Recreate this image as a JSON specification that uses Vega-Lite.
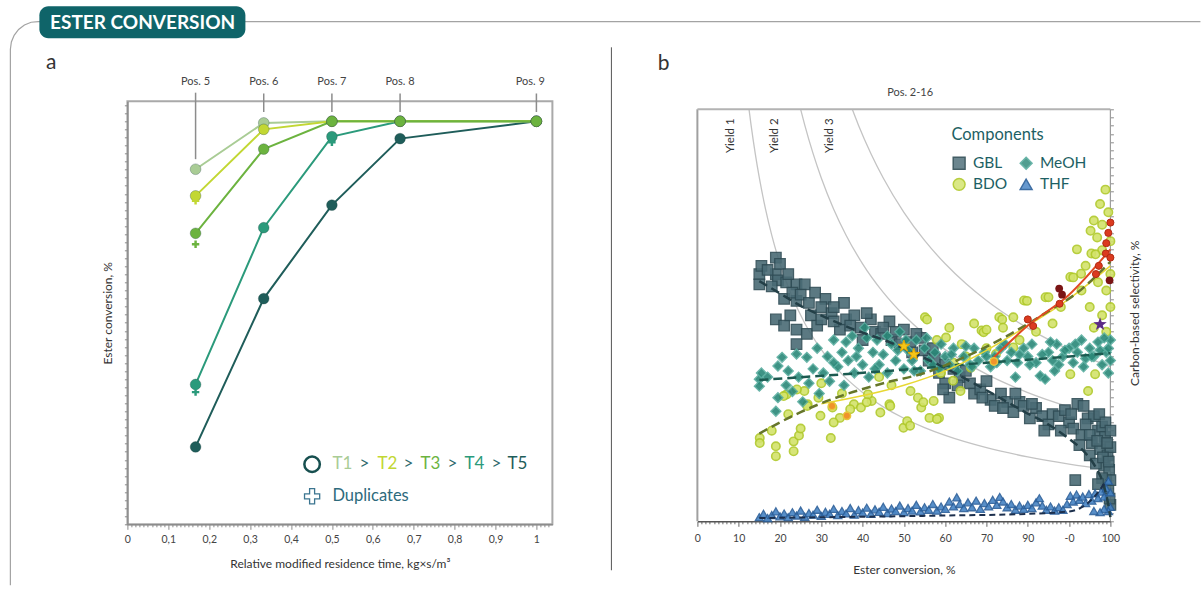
{
"$schema": "https://vega.github.io/schema/vega-lite/v6.json",
"padding": {"left": 6.4, "top": 4.3, "right": 0, "bottom": 0},
"bounds": "flush",
"spacing": 145,
"config": {
  "font": "Lato",
  "text": {"font": "Lato"},
  "axis": {"labelFont": "Lato", "titleFont": "Lato", "labelFontSize": 10.5, "labelColor": "#444444", "titleFontSize": 12, "titleFontWeight": "normal", "titleColor": "#333333", "domainColor": "#8c8c8c", "tickColor": "#8c8c8c", "grid": false, "domainWidth": 1.5}
},
"datasets": {
  "pts": [
    {"c": "GBL", "x": 15, "y": 60}, {"c": "GBL", "x": 15, "y": 57.5}, {"c": "GBL", "x": 15.5, "y": 62}, {"c": "GBL", "x": 19, "y": 64}, {"c": "GBL", "x": 19, "y": 60}, {"c": "GBL", "x": 19.5, "y": 58.5}, {"c": "GBL", "x": 21.5, "y": 58}, {"c": "GBL", "x": 24, "y": 57.5}, {"c": "GBL", "x": 26, "y": 57.5}, {"c": "GBL", "x": 21, "y": 54}, {"c": "GBL", "x": 24, "y": 53.5}, {"c": "GBL", "x": 23, "y": 55.5}, {"c": "GBL", "x": 31, "y": 54}, {"c": "GBL", "x": 35.5, "y": 53}, {"c": "GBL", "x": 19, "y": 49}, {"c": "GBL", "x": 21, "y": 47.5}, {"c": "GBL", "x": 22.5, "y": 50}, {"c": "GBL", "x": 24, "y": 46.5}, {"c": "GBL", "x": 24, "y": 43}, {"c": "GBL", "x": 26.5, "y": 45.5}, {"c": "GBL", "x": 27.5, "y": 50}, {"c": "GBL", "x": 29, "y": 47.5}, {"c": "GBL", "x": 30, "y": 52}, {"c": "GBL", "x": 32.5, "y": 50.5}, {"c": "GBL", "x": 34.5, "y": 46.5}, {"c": "GBL", "x": 33, "y": 48.5}, {"c": "GBL", "x": 36, "y": 49}, {"c": "GBL", "x": 38, "y": 50}, {"c": "GBL", "x": 39.5, "y": 47}, {"c": "GBL", "x": 40, "y": 44}, {"c": "GBL", "x": 42, "y": 49}, {"c": "GBL", "x": 43, "y": 46}, {"c": "GBL", "x": 44.5, "y": 45.5}, {"c": "GBL", "x": 46.5, "y": 48.5}, {"c": "GBL", "x": 47, "y": 44}, {"c": "GBL", "x": 48, "y": 46}, {"c": "GBL", "x": 50, "y": 46.5}, {"c": "GBL", "x": 51.5, "y": 43.5}, {"c": "GBL", "x": 52, "y": 41}, {"c": "GBL", "x": 54, "y": 44.5}, {"c": "GBL", "x": 55, "y": 41.5}, {"c": "GBL", "x": 56, "y": 39}, {"c": "GBL", "x": 57.5, "y": 39.5}, {"c": "GBL", "x": 58.5, "y": 36}, {"c": "GBL", "x": 60, "y": 33.5}, {"c": "GBL", "x": 61, "y": 30}, {"c": "GBL", "x": 59.5, "y": 32}, {"c": "GBL", "x": 62, "y": 37}, {"c": "GBL", "x": 63.5, "y": 35}, {"c": "GBL", "x": 65, "y": 36.5}, {"c": "GBL", "x": 66, "y": 33.5}, {"c": "GBL", "x": 67, "y": 31}, {"c": "GBL", "x": 68.5, "y": 32}, {"c": "GBL", "x": 70, "y": 34}, {"c": "GBL", "x": 71, "y": 29.5}, {"c": "GBL", "x": 72, "y": 28}, {"c": "GBL", "x": 73.5, "y": 31}, {"c": "GBL", "x": 75, "y": 29}, {"c": "GBL", "x": 76.5, "y": 26.5}, {"c": "GBL", "x": 78, "y": 29}, {"c": "GBL", "x": 79, "y": 28}, {"c": "GBL", "x": 80.5, "y": 25}, {"c": "GBL", "x": 82, "y": 27.5}, {"c": "GBL", "x": 83.5, "y": 25.5}, {"c": "GBL", "x": 85, "y": 23.5}, {"c": "GBL", "x": 86, "y": 26}, {"c": "GBL", "x": 87.5, "y": 25.5}, {"c": "GBL", "x": 89, "y": 27}, {"c": "GBL", "x": 90, "y": 24}, {"c": "GBL", "x": 91, "y": 22.5}, {"c": "GBL", "x": 92, "y": 28.5}, {"c": "GBL", "x": 93.5, "y": 28}, {"c": "GBL", "x": 94.5, "y": 25}, {"c": "GBL", "x": 95.5, "y": 19}, {"c": "GBL", "x": 96, "y": 25.5}, {"c": "GBL", "x": 97, "y": 22}, {"c": "GBL", "x": 97.5, "y": 17.5}, {"c": "GBL", "x": 98, "y": 23}, {"c": "GBL", "x": 98.5, "y": 13.5}, {"c": "GBL", "x": 98.7, "y": 20.5}, {"c": "GBL", "x": 99, "y": 10}, {"c": "GBL", "x": 99.3, "y": 16}, {"c": "GBL", "x": 99.5, "y": 7.5}, {"c": "GBL", "x": 99.7, "y": 12.5}, {"c": "GBL", "x": 100, "y": 18}, {"c": "GBL", "x": 100, "y": 4}, {"c": "GBL", "x": 91.5, "y": 10}, {"c": "GBL", "x": 95, "y": 16}, {"c": "GBL", "x": 96.5, "y": 14}, {"c": "GBL", "x": 93, "y": 21},
    {"c": "GBL", "x": 17, "y": 61}, {"c": "GBL", "x": 18, "y": 57}, {"c": "GBL", "x": 20, "y": 62.5}, {"c": "GBL", "x": 22, "y": 60}, {"c": "GBL", "x": 25, "y": 55}, {"c": "GBL", "x": 27, "y": 53}, {"c": "GBL", "x": 28.5, "y": 55.5}, {"c": "GBL", "x": 30, "y": 49}, {"c": "GBL", "x": 33, "y": 52}, {"c": "GBL", "x": 37, "y": 47.5}, {"c": "GBL", "x": 41, "y": 50.5}, {"c": "GBL", "x": 45, "y": 47}, {"c": "GBL", "x": 49, "y": 43}, {"c": "GBL", "x": 53, "y": 45.5}, {"c": "GBL", "x": 57, "y": 42}, {"c": "GBL", "x": 60, "y": 38}, {"c": "GBL", "x": 63, "y": 33}, {"c": "GBL", "x": 69, "y": 30}, {"c": "GBL", "x": 74, "y": 27.5}, {"c": "GBL", "x": 77, "y": 31}, {"c": "GBL", "x": 81, "y": 28.5}, {"c": "GBL", "x": 84, "y": 22}, {"c": "GBL", "x": 88, "y": 22}, {"c": "GBL", "x": 90.5, "y": 26}, {"c": "GBL", "x": 92.5, "y": 18.5}, {"c": "GBL", "x": 94, "y": 23.5}, {"c": "GBL", "x": 95, "y": 21}, {"c": "GBL", "x": 96.8, "y": 19.5}, {"c": "GBL", "x": 97.3, "y": 26}, {"c": "GBL", "x": 98.2, "y": 15.5}, {"c": "GBL", "x": 98.8, "y": 24}, {"c": "GBL", "x": 99.2, "y": 19}, {"c": "GBL", "x": 99.6, "y": 14.5}, {"c": "GBL", "x": 100, "y": 22}, {"c": "GBL", "x": 100, "y": 10}, {"c": "GBL", "x": 99.8, "y": 5.5}, {"c": "GBL", "x": 98, "y": 10.5}, {"c": "GBL", "x": 97, "y": 9},
    {"c": "BDO", "x": 15.1, "y": 20.2}, {"c": "BDO", "x": 15.1, "y": 19.0}, {"c": "BDO", "x": 19, "y": 18.2}, {"c": "BDO", "x": 19, "y": 15.8}, {"c": "BDO", "x": 23.3, "y": 17}, {"c": "BDO", "x": 23.3, "y": 19.4}, {"c": "BDO", "x": 24.6, "y": 20.8}, {"c": "BDO", "x": 25, "y": 22.5}, {"c": "BDO", "x": 32.3, "y": 20.2}, {"c": "BDO", "x": 21.6, "y": 30.8}, {"c": "BDO", "x": 25.9, "y": 31.6}, {"c": "BDO", "x": 26.7, "y": 28.4}, {"c": "BDO", "x": 29.3, "y": 30}, {"c": "BDO", "x": 32.7, "y": 27.6}, {"c": "BDO", "x": 34.5, "y": 25.1}, {"c": "BDO", "x": 37.9, "y": 28.4}, {"c": "BDO", "x": 39.6, "y": 27.6}, {"c": "BDO", "x": 42.2, "y": 29.2}, {"c": "BDO", "x": 46.5, "y": 28.4}, {"c": "BDO", "x": 49.9, "y": 22.7}, {"c": "BDO", "x": 50.8, "y": 24.3}, {"c": "BDO", "x": 53.4, "y": 30}, {"c": "BDO", "x": 56.2, "y": 25.1}, {"c": "BDO", "x": 58.5, "y": 25.1}, {"c": "BDO", "x": 57.2, "y": 29.2}, {"c": "BDO", "x": 55.1, "y": 49.5}, {"c": "BDO", "x": 60.2, "y": 44.6}, {"c": "BDO", "x": 63.7, "y": 31.6}, {"c": "BDO", "x": 68.8, "y": 46.3}, {"c": "BDO", "x": 73.1, "y": 49.5}, {"c": "BDO", "x": 76.5, "y": 49.5}, {"c": "BDO", "x": 79.1, "y": 53.6}, {"c": "BDO", "x": 84.3, "y": 54.4}, {"c": "BDO", "x": 90.3, "y": 59.3}, {"c": "BDO", "x": 92.9, "y": 60.1}, {"c": "BDO", "x": 95.4, "y": 65}, {"c": "BDO", "x": 98, "y": 65.8}, {"c": "BDO", "x": 90.3, "y": 35.7}, {"c": "BDO", "x": 94.6, "y": 31.6}, {"c": "BDO", "x": 96.3, "y": 35.7}, {"c": "BDO", "x": 76.5, "y": 42.2}, {"c": "BDO", "x": 72.3, "y": 40.6}, {"c": "BDO", "x": 66.2, "y": 37.3}, {"c": "BDO", "x": 61.9, "y": 34.1}, {"c": "BDO", "x": 51.6, "y": 31.6}, {"c": "BDO", "x": 54.2, "y": 27.6}, {"c": "BDO", "x": 41.3, "y": 30.8}, {"c": "BDO", "x": 20.9, "y": 30.4}, {"c": "BDO", "x": 24.1, "y": 32}, {"c": "BDO", "x": 26.6, "y": 28}, {"c": "BDO", "x": 29.8, "y": 25.6}, {"c": "BDO", "x": 33, "y": 24}, {"c": "BDO", "x": 37, "y": 27.2}, {"c": "BDO", "x": 41, "y": 28.9}, {"c": "BDO", "x": 44.3, "y": 26.4}, {"c": "BDO", "x": 46.7, "y": 28}, {"c": "BDO", "x": 51.5, "y": 23.2}, {"c": "BDO", "x": 54.7, "y": 28.9}, {"c": "BDO", "x": 55.6, "y": 49}, {"c": "BDO", "x": 58, "y": 24.8}, {"c": "BDO", "x": 95.2, "y": 70.5}, {"c": "BDO", "x": 96.8, "y": 68.9}, {"c": "BDO", "x": 91.9, "y": 66}, {"c": "BDO", "x": 96.4, "y": 64.8}, {"c": "BDO", "x": 91, "y": 59.2}, {"c": "BDO", "x": 85, "y": 54.4}, {"c": "BDO", "x": 79.8, "y": 53.5}, {"c": "BDO", "x": 73.8, "y": 49}, {"c": "BDO", "x": 69.3, "y": 45.9}, {"c": "BDO", "x": 98.8, "y": 80.5}, {"c": "BDO", "x": 97.5, "y": 77}, {"c": "BDO", "x": 96, "y": 73}, {"c": "BDO", "x": 99.5, "y": 75}, {"c": "BDO", "x": 98, "y": 72}, {"c": "BDO", "x": 100, "y": 68}, {"c": "BDO", "x": 94, "y": 62}, {"c": "BDO", "x": 97, "y": 58}, {"c": "BDO", "x": 99, "y": 56}, {"c": "BDO", "x": 93, "y": 56}, {"c": "BDO", "x": 95, "y": 52}, {"c": "BDO", "x": 98, "y": 50}, {"c": "BDO", "x": 100, "y": 60}, {"c": "BDO", "x": 100, "y": 52}, {"c": "BDO", "x": 99, "y": 46}, {"c": "BDO", "x": 96, "y": 47}, {"c": "BDO", "x": 88, "y": 52}, {"c": "BDO", "x": 86, "y": 48}, {"c": "BDO", "x": 82, "y": 46}, {"c": "BDO", "x": 78, "y": 44}, {"c": "BDO", "x": 70, "y": 42}, {"c": "BDO", "x": 65, "y": 40}, {"c": "BDO", "x": 62, "y": 38.5}, {"c": "BDO", "x": 59, "y": 36}, {"c": "BDO", "x": 47, "y": 33}, {"c": "BDO", "x": 44, "y": 35}, {"c": "BDO", "x": 35, "y": 31}, {"c": "BDO", "x": 30, "y": 33.5}, {"c": "BDO", "x": 22, "y": 26}, {"c": "BDO", "x": 18, "y": 22}, {"c": "BDO", "x": 58, "y": 44}, {"c": "BDO", "x": 61, "y": 47}, {"c": "BDO", "x": 64, "y": 43}, {"c": "BDO", "x": 67, "y": 48}, {"c": "BDO", "x": 70, "y": 46.5}, {"c": "BDO", "x": 74, "y": 47},
    {"c": "MeOH", "x": 15, "y": 34.5}, {"c": "MeOH", "x": 15, "y": 32.8}, {"c": "MeOH", "x": 15.5, "y": 36}, {"c": "MeOH", "x": 17, "y": 35}, {"c": "MeOH", "x": 19.5, "y": 37.7}, {"c": "MeOH", "x": 19.5, "y": 30}, {"c": "MeOH", "x": 19, "y": 26.7}, {"c": "MeOH", "x": 20.5, "y": 39.8}, {"c": "MeOH", "x": 21.5, "y": 33}, {"c": "MeOH", "x": 22, "y": 36.5}, {"c": "MeOH", "x": 23, "y": 31.5}, {"c": "MeOH", "x": 24, "y": 40.6}, {"c": "MeOH", "x": 24.5, "y": 35}, {"c": "MeOH", "x": 25.5, "y": 29}, {"c": "MeOH", "x": 26.5, "y": 39.8}, {"c": "MeOH", "x": 27, "y": 33.5}, {"c": "MeOH", "x": 28, "y": 37}, {"c": "MeOH", "x": 29, "y": 42}, {"c": "MeOH", "x": 29.5, "y": 31}, {"c": "MeOH", "x": 30.5, "y": 36}, {"c": "MeOH", "x": 31.5, "y": 40}, {"c": "MeOH", "x": 32, "y": 34}, {"c": "MeOH", "x": 33, "y": 44}, {"c": "MeOH", "x": 34, "y": 37.5}, {"c": "MeOH", "x": 35, "y": 41}, {"c": "MeOH", "x": 35.5, "y": 33}, {"c": "MeOH", "x": 36.5, "y": 39}, {"c": "MeOH", "x": 37.5, "y": 45}, {"c": "MeOH", "x": 38, "y": 36}, {"c": "MeOH", "x": 39, "y": 42}, {"c": "MeOH", "x": 40, "y": 38}, {"c": "MeOH", "x": 40.5, "y": 47}, {"c": "MeOH", "x": 41.5, "y": 35}, {"c": "MeOH", "x": 42.5, "y": 41}, {"c": "MeOH", "x": 43.5, "y": 44}, {"c": "MeOH", "x": 44, "y": 38}, {"c": "MeOH", "x": 45, "y": 40.5}, {"c": "MeOH", "x": 46, "y": 36}, {"c": "MeOH", "x": 47, "y": 43}, {"c": "MeOH", "x": 48, "y": 39}, {"c": "MeOH", "x": 49, "y": 46}, {"c": "MeOH", "x": 50, "y": 37}, {"c": "MeOH", "x": 51, "y": 41.5}, {"c": "MeOH", "x": 52, "y": 39}, {"c": "MeOH", "x": 53, "y": 44}, {"c": "MeOH", "x": 54, "y": 36.5}, {"c": "MeOH", "x": 55, "y": 42}, {"c": "MeOH", "x": 56, "y": 39}, {"c": "MeOH", "x": 57.5, "y": 41}, {"c": "MeOH", "x": 58.5, "y": 37}, {"c": "MeOH", "x": 60, "y": 40}, {"c": "MeOH", "x": 61, "y": 38}, {"c": "MeOH", "x": 62, "y": 42}, {"c": "MeOH", "x": 63, "y": 36.5}, {"c": "MeOH", "x": 64.5, "y": 40}, {"c": "MeOH", "x": 66, "y": 38}, {"c": "MeOH", "x": 67, "y": 42}, {"c": "MeOH", "x": 68, "y": 39}, {"c": "MeOH", "x": 69.5, "y": 41}, {"c": "MeOH", "x": 71, "y": 37.5}, {"c": "MeOH", "x": 72, "y": 40}, {"c": "MeOH", "x": 73.5, "y": 42}, {"c": "MeOH", "x": 75, "y": 39}, {"c": "MeOH", "x": 76, "y": 41}, {"c": "MeOH", "x": 77.5, "y": 38.5}, {"c": "MeOH", "x": 79, "y": 42}, {"c": "MeOH", "x": 80, "y": 40}, {"c": "MeOH", "x": 81, "y": 43}, {"c": "MeOH", "x": 82, "y": 38.5}, {"c": "MeOH", "x": 83, "y": 35.3}, {"c": "MeOH", "x": 84.2, "y": 34.5}, {"c": "MeOH", "x": 85, "y": 41}, {"c": "MeOH", "x": 86, "y": 39}, {"c": "MeOH", "x": 87, "y": 43}, {"c": "MeOH", "x": 88.5, "y": 40}, {"c": "MeOH", "x": 90, "y": 42}, {"c": "MeOH", "x": 91, "y": 38.5}, {"c": "MeOH", "x": 92, "y": 41}, {"c": "MeOH", "x": 93, "y": 44}, {"c": "MeOH", "x": 94, "y": 39.5}, {"c": "MeOH", "x": 95, "y": 42}, {"c": "MeOH", "x": 96, "y": 40}, {"c": "MeOH", "x": 97, "y": 43.5}, {"c": "MeOH", "x": 98, "y": 38}, {"c": "MeOH", "x": 99, "y": 41}, {"c": "MeOH", "x": 100, "y": 44}, {"c": "MeOH", "x": 100, "y": 39}, {"c": "MeOH", "x": 99.5, "y": 36}, {"c": "MeOH", "x": 86.5, "y": 36.5}, {"c": "MeOH", "x": 77, "y": 35},
    {"c": "MeOH", "x": 33, "y": 38.5}, {"c": "MeOH", "x": 36, "y": 43.5}, {"c": "MeOH", "x": 38.5, "y": 40}, {"c": "MeOH", "x": 41, "y": 44.5}, {"c": "MeOH", "x": 43, "y": 37}, {"c": "MeOH", "x": 46, "y": 45}, {"c": "MeOH", "x": 48.5, "y": 41.5}, {"c": "MeOH", "x": 50.5, "y": 44}, {"c": "MeOH", "x": 52.5, "y": 36.5}, {"c": "MeOH", "x": 55.5, "y": 44.5}, {"c": "MeOH", "x": 57, "y": 38}, {"c": "MeOH", "x": 59, "y": 43}, {"c": "MeOH", "x": 61.5, "y": 40.5}, {"c": "MeOH", "x": 65, "y": 42.5}, {"c": "MeOH", "x": 66.5, "y": 37.5}, {"c": "MeOH", "x": 70, "y": 40}, {"c": "MeOH", "x": 72.5, "y": 38.5}, {"c": "MeOH", "x": 74.5, "y": 43}, {"c": "MeOH", "x": 78, "y": 40.5}, {"c": "MeOH", "x": 80.5, "y": 38}, {"c": "MeOH", "x": 83.5, "y": 40.5}, {"c": "MeOH", "x": 85.5, "y": 43.5}, {"c": "MeOH", "x": 87.5, "y": 38}, {"c": "MeOH", "x": 89, "y": 41.5}, {"c": "MeOH", "x": 91.5, "y": 43}, {"c": "MeOH", "x": 93.5, "y": 37.5}, {"c": "MeOH", "x": 95.5, "y": 40}, {"c": "MeOH", "x": 97.5, "y": 41.5}, {"c": "MeOH", "x": 98.5, "y": 44.5}, {"c": "MeOH", "x": 99.5, "y": 42},
    {"c": "THF", "x": 15, "y": 1.0}, {"c": "THF", "x": 16, "y": 1.8}, {"c": "THF", "x": 17, "y": 0.8}, {"c": "THF", "x": 18, "y": 1.5}, {"c": "THF", "x": 19, "y": 2.4}, {"c": "THF", "x": 20, "y": 1.2}, {"c": "THF", "x": 21, "y": 1.9}, {"c": "THF", "x": 22, "y": 1.0}, {"c": "THF", "x": 23, "y": 2.2}, {"c": "THF", "x": 24, "y": 1.4}, {"c": "THF", "x": 25, "y": 2.6}, {"c": "THF", "x": 26, "y": 1.1}, {"c": "THF", "x": 27, "y": 2.0}, {"c": "THF", "x": 28, "y": 1.6}, {"c": "THF", "x": 29, "y": 2.8}, {"c": "THF", "x": 30, "y": 1.3}, {"c": "THF", "x": 31, "y": 2.3}, {"c": "THF", "x": 32, "y": 1.8}, {"c": "THF", "x": 33, "y": 3.0}, {"c": "THF", "x": 34, "y": 1.5}, {"c": "THF", "x": 35, "y": 2.5}, {"c": "THF", "x": 36, "y": 1.9}, {"c": "THF", "x": 37, "y": 3.2}, {"c": "THF", "x": 38, "y": 1.6}, {"c": "THF", "x": 39, "y": 2.7}, {"c": "THF", "x": 40, "y": 2.1}, {"c": "THF", "x": 41, "y": 3.3}, {"c": "THF", "x": 42, "y": 1.8}, {"c": "THF", "x": 43, "y": 2.9}, {"c": "THF", "x": 44, "y": 2.3}, {"c": "THF", "x": 45, "y": 3.5}, {"c": "THF", "x": 46, "y": 2.0}, {"c": "THF", "x": 47, "y": 3.1}, {"c": "THF", "x": 48, "y": 2.5}, {"c": "THF", "x": 49, "y": 3.8}, {"c": "THF", "x": 50, "y": 2.2}, {"c": "THF", "x": 51, "y": 3.2}, {"c": "THF", "x": 52, "y": 2.6}, {"c": "THF", "x": 53, "y": 4.0}, {"c": "THF", "x": 54, "y": 2.4}, {"c": "THF", "x": 55, "y": 3.4}, {"c": "THF", "x": 56, "y": 2.8}, {"c": "THF", "x": 57, "y": 4.2}, {"c": "THF", "x": 58, "y": 2.6}, {"c": "THF", "x": 59, "y": 3.6}, {"c": "THF", "x": 60, "y": 3.0}, {"c": "THF", "x": 61, "y": 4.8}, {"c": "THF", "x": 62, "y": 3.6}, {"c": "THF", "x": 62.8, "y": 5.8}, {"c": "THF", "x": 63.5, "y": 4.2}, {"c": "THF", "x": 64.5, "y": 3.2}, {"c": "THF", "x": 65.5, "y": 4.6}, {"c": "THF", "x": 66.5, "y": 3.4}, {"c": "THF", "x": 67.5, "y": 5.0}, {"c": "THF", "x": 68.5, "y": 3.0}, {"c": "THF", "x": 69.5, "y": 4.4}, {"c": "THF", "x": 70.5, "y": 3.6}, {"c": "THF", "x": 71.5, "y": 5.2}, {"c": "THF", "x": 72.5, "y": 4.0}, {"c": "THF", "x": 73.2, "y": 5.9}, {"c": "THF", "x": 74, "y": 4.8}, {"c": "THF", "x": 75, "y": 3.4}, {"c": "THF", "x": 76, "y": 4.2}, {"c": "THF", "x": 77, "y": 2.8}, {"c": "THF", "x": 78, "y": 3.8}, {"c": "THF", "x": 79, "y": 3.0}, {"c": "THF", "x": 80, "y": 4.0}, {"c": "THF", "x": 81, "y": 3.2}, {"c": "THF", "x": 82, "y": 4.6}, {"c": "THF", "x": 82.8, "y": 5.6}, {"c": "THF", "x": 83.5, "y": 3.8}, {"c": "THF", "x": 84.5, "y": 2.8}, {"c": "THF", "x": 85.5, "y": 3.6}, {"c": "THF", "x": 86.5, "y": 2.6}, {"c": "THF", "x": 87.5, "y": 3.4}, {"c": "THF", "x": 88.5, "y": 2.8}, {"c": "THF", "x": 89.5, "y": 4.2}, {"c": "THF", "x": 90.3, "y": 6.2}, {"c": "THF", "x": 91, "y": 4.8}, {"c": "THF", "x": 91.8, "y": 6.5}, {"c": "THF", "x": 92.5, "y": 5.2}, {"c": "THF", "x": 93.3, "y": 6.0}, {"c": "THF", "x": 94, "y": 4.4}, {"c": "THF", "x": 94.8, "y": 6.6}, {"c": "THF", "x": 95.5, "y": 5.0}, {"c": "THF", "x": 96.3, "y": 6.8}, {"c": "THF", "x": 97, "y": 5.6}, {"c": "THF", "x": 97.8, "y": 7.2}, {"c": "THF", "x": 98.5, "y": 6.0}, {"c": "THF", "x": 99, "y": 8.0}, {"c": "THF", "x": 99.5, "y": 9.8}, {"c": "THF", "x": 100, "y": 7.0}, {"c": "THF", "x": 100, "y": 3.5}, {"c": "THF", "x": 99.5, "y": 2.5}, {"c": "THF", "x": 98.5, "y": 3.0}, {"c": "THF", "x": 97.5, "y": 2.2}, {"c": "THF", "x": 96, "y": 2.5}
  ]
},
"hconcat": [
{
  "width": 425, "height": 423,
  "view": {"stroke": "#a9a9a9", "strokeWidth": 2},
  "encoding": {
    "x": {"field": "x", "type": "quantitative", "scale": {"domain": [0, 1.0391], "nice": false, "zero": false},
      "axis": {"title": "Relative modified residence time, kg×s/m³", "tickCount": 100, "labelOverlap": false, "labelFlush": false,
        "labelExpr": "abs(datum.value*10 - round(datum.value*10)) < 0.001 ? replace(format(datum.value, '.1~f'), '.', ',') : ''",
        "tickSize": {"condition": {"test": "abs(datum.value*10 - round(datum.value*10)) < 0.001", "value": 5}, "value": 2.5},
        "labelPadding": 5, "titlePadding": 14}},
    "y": {"field": "y", "type": "quantitative", "scale": {"domain": [0, 104.96], "nice": false, "zero": false},
      "axis": {"title": "Ester conversion, %", "labels": false, "tickCount": 60, "tickSize": 3, "titlePadding": 9}}
  },
  "layer": [
    {"data": {"values": [
      {"i": 1, "x": -0.2861, "y": -15.14}, {"i": 2, "x": -0.2861, "y": 117.87}, {"i": 3, "x": -0.2837, "y": 119.67},
      {"i": 4, "x": -0.2769, "y": 121.34}, {"i": 5, "x": -0.2660, "y": 122.78}, {"i": 6, "x": -0.2518, "y": 123.88},
      {"i": 7, "x": -0.2353, "y": 124.58}, {"i": 8, "x": -0.2176, "y": 124.74}, {"i": 9, "x": 2.6235, "y": 124.74}]},
     "mark": {"type": "line", "stroke": "#a3a3a3", "strokeWidth": 1.2, "clip": false},
     "encoding": {"order": {"field": "i", "type": "quantitative"}}},
    {"data": {"values": [{"x": -0.2152, "x2": 0.2885, "y": 120.6, "y2": 128.54}]},
     "mark": {"type": "rect", "fill": "#0f6469", "cornerRadius": 9},
     "encoding": {"x2": {"field": "x2"}, "y2": {"field": "y2"}}},
    {"data": {"values": [{"x": 0.0372, "y": 124.4, "label": "ESTER CONVERSION"}]},
     "mark": {"type": "text", "fill": "#ffffff", "fontSize": 19, "fontWeight": "bold", "align": "center", "baseline": "middle"},
     "encoding": {"text": {"field": "label"}}},
    {"data": {"values": [{"x": 1.1834, "y": -11.41, "y2": 118.36}]},
     "mark": {"type": "rule", "stroke": "#555555", "strokeWidth": 1},
     "encoding": {"y2": {"field": "y2"}}},
    {"data": {"values": [{"x": -0.186, "y": 114.4, "label": "a"}]},
     "mark": {"type": "text", "fontSize": 21, "fill": "#333333", "align": "center", "baseline": "middle"},
     "encoding": {"text": {"field": "label"}}},
    {"data": {"values": [
      {"x": 0.1667, "y": 90.6, "y2": 107.1}, {"x": 0.3333, "y": 102.3, "y2": 106.9}, {"x": 0.5, "y": 102.3, "y2": 106.9},
      {"x": 0.6667, "y": 102.3, "y2": 106.9}, {"x": 1.0, "y": 102.3, "y2": 106.9}]},
     "mark": {"type": "rule", "stroke": "#8c8c8c", "strokeWidth": 1.5},
     "encoding": {"y2": {"field": "y2"}}},
    {"data": {"values": [
      {"x": 0.1667, "y": 109.75, "label": "Pos. 5"}, {"x": 0.3333, "y": 109.75, "label": "Pos. 6"}, {"x": 0.5, "y": 109.75, "label": "Pos. 7"},
      {"x": 0.6667, "y": 109.75, "label": "Pos. 8"}, {"x": 0.985, "y": 109.75, "label": "Pos. 9"}]},
     "mark": {"type": "text", "fontSize": 11, "fill": "#444444", "align": "center", "baseline": "middle"},
     "encoding": {"text": {"field": "label"}}},
    {"data": {"name": "series", "values": [
      {"s": "T5", "x": 0.1667, "y": 19.2}, {"s": "T5", "x": 0.3333, "y": 56.0}, {"s": "T5", "x": 0.5, "y": 79.2}, {"s": "T5", "x": 0.6667, "y": 95.7}, {"s": "T5", "x": 1.0, "y": 100},
      {"s": "T4", "x": 0.1667, "y": 34.7}, {"s": "T4", "x": 0.3333, "y": 73.6}, {"s": "T4", "x": 0.5, "y": 96.2}, {"s": "T4", "x": 0.6667, "y": 100}, {"s": "T4", "x": 1.0, "y": 100},
      {"s": "T1", "x": 0.1667, "y": 88.1}, {"s": "T1", "x": 0.3333, "y": 99.6}, {"s": "T1", "x": 0.5, "y": 100}, {"s": "T1", "x": 0.6667, "y": 100}, {"s": "T1", "x": 1.0, "y": 100},
      {"s": "T2", "x": 0.1667, "y": 81.5}, {"s": "T2", "x": 0.3333, "y": 98.0}, {"s": "T2", "x": 0.5, "y": 100}, {"s": "T2", "x": 0.6667, "y": 100}, {"s": "T2", "x": 1.0, "y": 100},
      {"s": "T3", "x": 0.1667, "y": 72.2}, {"s": "T3", "x": 0.3333, "y": 93.1}, {"s": "T3", "x": 0.5, "y": 100}, {"s": "T3", "x": 0.6667, "y": 100}, {"s": "T3", "x": 1.0, "y": 100}]},
     "mark": {"type": "line", "strokeWidth": 2},
     "encoding": {"color": {"field": "s", "type": "nominal", "scale": {"domain": ["T1", "T2", "T3", "T4", "T5"], "range": ["#a9cc95", "#c2d733", "#6cb33f", "#2b9a7b", "#1f5d5a"]}, "legend": null}}},
    {"data": {"name": "series"},
     "mark": {"type": "point", "filled": true, "size": 115, "opacity": 1, "stroke": "#1b3f3c", "strokeOpacity": 0.3, "strokeWidth": 1},
     "encoding": {"color": {"field": "s", "type": "nominal"}}},
    {"data": {"values": [
      {"s": "T1", "x": 0.1667, "y": 88.1}, {"s": "T2", "x": 0.1667, "y": 80.3}, {"s": "T3", "x": 0.1667, "y": 69.5},
      {"s": "T4", "x": 0.1667, "y": 32.8}, {"s": "T4", "x": 0.5, "y": 94.8}]},
     "mark": {"type": "point", "filled": true, "size": 55, "opacity": 1, "shape": "M-0.33,-1H0.33V-0.33H1V0.33H0.33V1H-0.33V0.33H-1V-0.33H-0.33Z"},
     "encoding": {"color": {"field": "s", "type": "nominal"}}},
    {"data": {"values": [{"x": 0.4516, "y": 14.9}]},
     "mark": {"type": "point", "shape": "circle", "filled": false, "stroke": "#174f4f", "strokeWidth": 2.5, "size": 240, "opacity": 1}},
    {"data": {"values": [
      {"x": 0.5012, "y": 14.9, "s": "T1", "label": "T1"}, {"x": 0.6112, "y": 14.9, "s": "T2", "label": "T2"},
      {"x": 0.7164, "y": 14.9, "s": "T3", "label": "T3"}, {"x": 0.824, "y": 14.9, "s": "T4", "label": "T4"},
      {"x": 0.9291, "y": 14.9, "s": "T5", "label": "T5"}]},
     "mark": {"type": "text", "fontSize": 17, "align": "left", "baseline": "middle"},
     "encoding": {"text": {"field": "label"}, "color": {"field": "s", "type": "nominal"}}},
    {"data": {"values": [
      {"x": 0.5795, "y": 14.9, "label": ">"}, {"x": 0.687, "y": 14.9, "label": ">"},
      {"x": 0.7946, "y": 14.9, "label": ">"}, {"x": 0.9022, "y": 14.9, "label": ">"}]},
     "mark": {"type": "text", "fontSize": 17, "align": "center", "baseline": "middle", "fill": "#2f6a6d"},
     "encoding": {"text": {"field": "label"}}},
    {"data": {"values": [{"x": 0.4516, "y": 6.95}]},
     "mark": {"type": "point", "filled": false, "stroke": "#3b7590", "strokeWidth": 1.3, "size": 230, "opacity": 1, "shape": "M-0.33,-1H0.33V-0.33H1V0.33H0.33V1H-0.33V0.33H-1V-0.33H-0.33Z"}},
    {"data": {"values": [{"x": 0.5012, "y": 6.95, "label": "Duplicates"}]},
     "mark": {"type": "text", "fontSize": 16.5, "align": "left", "baseline": "middle", "fill": "#2d6a7c"},
     "encoding": {"text": {"field": "label"}}}
  ]
},
{
  "width": 413, "height": 423,
  "view": {"stroke": null},
  "encoding": {
    "x": {"field": "x", "type": "quantitative", "scale": {"domain": [0, 100], "nice": false, "zero": false},
      "axis": {"title": "Ester conversion, %", "offset": -3, "tickCount": 100, "labelOverlap": false, "labelFlush": false,
        "labelExpr": "datum.value == 80 ? '90' : datum.value == 90 ? '-0' : (datum.value % 10 == 0 ? datum.label : '')",
        "tickSize": {"condition": {"test": "datum.value % 10 == 0", "value": 5}, "value": 2.5},
        "domainColor": "#555555", "tickColor": "#666666", "labelPadding": 7, "titlePadding": 21}},
    "y": {"field": "y", "type": "quantitative", "scale": {"domain": [-0.73, 101.94], "nice": false, "zero": false},
      "axis": {"orient": "right", "title": "Carbon-based selectivity, %", "titleAngle": 270, "titleBaseline": "top", "domain": false, "labels": false, "tickCount": 50, "tickSize": 3, "titlePadding": 16}}
  },
  "layer": [
    {"data": {"values": [
      {"k": "Y1", "x": 12.5, "y": 100}, {"k": "Y1", "x": 13, "y": 96.15}, {"k": "Y1", "x": 14, "y": 89.29}, {"k": "Y1", "x": 15, "y": 83.33}, {"k": "Y1", "x": 16.5, "y": 75.76}, {"k": "Y1", "x": 18, "y": 69.44}, {"k": "Y1", "x": 20, "y": 62.5}, {"k": "Y1", "x": 23, "y": 54.35}, {"k": "Y1", "x": 26, "y": 48.08}, {"k": "Y1", "x": 30, "y": 41.67}, {"k": "Y1", "x": 35, "y": 35.71}, {"k": "Y1", "x": 40, "y": 31.25}, {"k": "Y1", "x": 45, "y": 27.78}, {"k": "Y1", "x": 50, "y": 25}, {"k": "Y1", "x": 55, "y": 22.73}, {"k": "Y1", "x": 60, "y": 20.83}, {"k": "Y1", "x": 70, "y": 17.86}, {"k": "Y1", "x": 80, "y": 15.63}, {"k": "Y1", "x": 90, "y": 13.89}, {"k": "Y1", "x": 100, "y": 12.5},
      {"k": "Y2", "x": 25, "y": 100}, {"k": "Y2", "x": 26, "y": 96.15}, {"k": "Y2", "x": 28, "y": 89.29}, {"k": "Y2", "x": 30, "y": 83.33}, {"k": "Y2", "x": 33, "y": 75.76}, {"k": "Y2", "x": 36, "y": 69.44}, {"k": "Y2", "x": 40, "y": 62.5}, {"k": "Y2", "x": 45, "y": 55.56}, {"k": "Y2", "x": 50, "y": 50}, {"k": "Y2", "x": 55, "y": 45.45}, {"k": "Y2", "x": 60, "y": 41.67}, {"k": "Y2", "x": 70, "y": 35.71}, {"k": "Y2", "x": 80, "y": 31.25}, {"k": "Y2", "x": 90, "y": 27.78}, {"k": "Y2", "x": 100, "y": 25},
      {"k": "Y3", "x": 37.5, "y": 100}, {"k": "Y3", "x": 39, "y": 96.15}, {"k": "Y3", "x": 42, "y": 89.29}, {"k": "Y3", "x": 45, "y": 83.33}, {"k": "Y3", "x": 50, "y": 75}, {"k": "Y3", "x": 55, "y": 68.18}, {"k": "Y3", "x": 60, "y": 62.5}, {"k": "Y3", "x": 65, "y": 57.69}, {"k": "Y3", "x": 70, "y": 53.57}, {"k": "Y3", "x": 80, "y": 46.88}, {"k": "Y3", "x": 90, "y": 41.67}, {"k": "Y3", "x": 100, "y": 37.5}]},
     "mark": {"type": "line", "stroke": "#c4c4c4", "strokeWidth": 1.3, "interpolate": "monotone"},
     "encoding": {"detail": {"field": "k"}}},
    {"data": {"values": [{"x": 0, "y": 0, "y2": 100}]},
     "mark": {"type": "rule", "stroke": "#a0a0a0", "strokeWidth": 2},
     "encoding": {"y2": {"field": "y2"}}},
    {"data": {"values": [{"x": 0, "x2": 100, "y": 100}]},
     "mark": {"type": "rule", "stroke": "#b3b3b3", "strokeWidth": 2},
     "encoding": {"x2": {"field": "x2"}}},
    {"data": {"values": [{"x": 100, "y": 0, "y2": 100}]},
     "mark": {"type": "rule", "stroke": "#9c9c9c", "strokeWidth": 1.2},
     "encoding": {"y2": {"field": "y2"}}},
    {"data": {"values": [
      {"x": 8.2, "y": 97.8, "label": "Yield 1"}, {"x": 18.9, "y": 97.8, "label": "Yield 2"}, {"x": 32.0, "y": 97.8, "label": "Yield 3"}]},
     "mark": {"type": "text", "angle": 270, "align": "right", "baseline": "middle", "fontSize": 11.5, "fill": "#333333"},
     "encoding": {"text": {"field": "label"}}},
    {"data": {"values": [{"x": 51.5, "y": 103.9, "label": "Pos. 2-16"}]},
     "mark": {"type": "text", "align": "center", "baseline": "middle", "fontSize": 11, "fill": "#444444"},
     "encoding": {"text": {"field": "label"}}},
    {"data": {"values": [{"x": -8.2, "y": 111.0, "label": "b"}]},
     "mark": {"type": "text", "align": "center", "baseline": "middle", "fontSize": 21, "fill": "#333333"},
     "encoding": {"text": {"field": "label"}}},
    {"data": {"name": "pts"},
     "transform": [{"filter": "datum.c == 'GBL'"}],
     "mark": {"type": "point", "filled": true, "size": 110, "strokeWidth": 1.3, "opacity": 0.9},
     "encoding": {
       "fill": {"field": "c", "type": "nominal", "scale": {"domain": ["GBL", "BDO", "MeOH", "THF"], "range": ["#4a6b75", "#d3e36b", "#2a8878", "#4583c4"]},
         "legend": {"orient": "none", "legendX": 824, "legendY": 25.5, "title": "Components", "columns": 2, "titleFontSize": 16.5, "titleFontWeight": "normal", "titleColor": "#1d5f64", "titlePadding": 12, "labelFontSize": 15.5, "labelColor": "#1d5f64", "symbolSize": 140, "symbolStrokeWidth": 1.5, "columnPadding": 9, "rowPadding": 2.3, "labelOffset": 6, "padding": 0, "titleFont": "Lato", "labelFont": "Lato"}},
       "stroke": {"field": "c", "type": "nominal", "scale": {"domain": ["GBL", "BDO", "MeOH", "THF"], "range": ["#2f4c55", "#b0c92a", "#5aaea0", "#2b5f9a"]},
         "legend": {"orient": "none", "legendX": 824, "legendY": 25.5, "title": "Components", "columns": 2, "titleFontSize": 16.5, "titleFontWeight": "normal", "titleColor": "#1d5f64", "titlePadding": 12, "labelFontSize": 15.5, "labelColor": "#1d5f64", "symbolSize": 140, "symbolStrokeWidth": 1.5, "columnPadding": 9, "rowPadding": 2.3, "labelOffset": 6, "padding": 0, "titleFont": "Lato", "labelFont": "Lato"}},
       "shape": {"field": "c", "type": "nominal", "scale": {"domain": ["GBL", "BDO", "MeOH", "THF"], "range": ["square", "circle", "diamond", "triangle-up"]},
         "legend": {"orient": "none", "legendX": 824, "legendY": 25.5, "title": "Components", "columns": 2, "titleFontSize": 16.5, "titleFontWeight": "normal", "titleColor": "#1d5f64", "titlePadding": 12, "labelFontSize": 15.5, "labelColor": "#1d5f64", "symbolSize": 140, "symbolStrokeWidth": 1.5, "columnPadding": 9, "rowPadding": 2.3, "labelOffset": 6, "padding": 0, "titleFont": "Lato", "labelFont": "Lato"}}
     }},
    {"data": {"name": "pts"},
     "transform": [{"filter": "datum.c == 'BDO'"}],
     "mark": {"type": "point", "filled": true, "size": 70, "strokeWidth": 1.6, "opacity": 0.9},
     "encoding": {"fill": {"field": "c", "type": "nominal"}, "stroke": {"field": "c", "type": "nominal"}, "shape": {"field": "c", "type": "nominal"}}},
    {"data": {"name": "pts"},
     "transform": [{"filter": "datum.c == 'MeOH'"}],
     "mark": {"type": "point", "filled": true, "size": 100, "strokeWidth": 1.3, "opacity": 0.9},
     "encoding": {"fill": {"field": "c", "type": "nominal"}, "stroke": {"field": "c", "type": "nominal"}, "shape": {"field": "c", "type": "nominal"}}},
    {"data": {"name": "pts"},
     "transform": [{"filter": "datum.c == 'THF'"}],
     "mark": {"type": "point", "filled": true, "size": 65, "strokeWidth": 1.3, "opacity": 0.9},
     "encoding": {"fill": {"field": "c", "type": "nominal"}, "stroke": {"field": "c", "type": "nominal"}, "shape": {"field": "c", "type": "nominal"}}},
    {"data": {"values": [{"x": 15, "y": 58.3}, {"x": 20, "y": 55.3}, {"x": 25, "y": 52.3}, {"x": 31, "y": 49.5}, {"x": 38, "y": 46.5}, {"x": 46.5, "y": 43.5}, {"x": 52, "y": 41}, {"x": 59.4, "y": 37.5}, {"x": 66, "y": 34}, {"x": 72.3, "y": 30.5}, {"x": 79, "y": 26.7}, {"x": 85, "y": 23.5}, {"x": 90, "y": 20}, {"x": 94, "y": 16.5}, {"x": 96.5, "y": 13}, {"x": 98.3, "y": 9}, {"x": 99.3, "y": 5}, {"x": 100, "y": 1}]},
     "mark": {"type": "line", "stroke": "#233f47", "strokeWidth": 2.5, "strokeDash": [9, 5], "interpolate": "monotone"}, "encoding": {}},
    {"data": {"values": [{"x": 15, "y": 34.3}, {"x": 30, "y": 35.3}, {"x": 50, "y": 36.8}, {"x": 70, "y": 38.5}, {"x": 85, "y": 39.6}, {"x": 100, "y": 40.8}]},
     "mark": {"type": "line", "stroke": "#1b5a50", "strokeWidth": 2.5, "strokeDash": [9, 5], "interpolate": "monotone"}, "encoding": {}},
    {"data": {"values": [{"x": 30, "y": 28.5}, {"x": 50, "y": 33}, {"x": 60, "y": 36.5}, {"x": 70, "y": 41.5}, {"x": 80, "y": 47.5}, {"x": 90, "y": 54}, {"x": 100, "y": 62}]},
     "mark": {"type": "line", "stroke": "#e8d833", "strokeWidth": 1.5, "interpolate": "monotone"}, "encoding": {}},
    {"data": {"values": [{"x": 15, "y": 21.3}, {"x": 25, "y": 26.5}, {"x": 35, "y": 30.5}, {"x": 45, "y": 33.5}, {"x": 55, "y": 36}, {"x": 65, "y": 40}, {"x": 75, "y": 45}, {"x": 85, "y": 51}, {"x": 92, "y": 55.5}, {"x": 100, "y": 63}]},
     "mark": {"type": "line", "stroke": "#66762a", "strokeWidth": 2.5, "strokeDash": [9, 5], "interpolate": "monotone"}, "encoding": {}},
    {"data": {"values": [{"x": 71, "y": 39}, {"x": 80, "y": 47.5}, {"x": 90, "y": 55}, {"x": 100, "y": 66}]},
     "mark": {"type": "line", "stroke": "#e04a22", "strokeWidth": 2, "interpolate": "monotone"}, "encoding": {}},
    {"data": {"values": [{"x": 15, "y": 0.8}, {"x": 40, "y": 1.1}, {"x": 60, "y": 1.4}, {"x": 80, "y": 1.8}, {"x": 90, "y": 2.4}, {"x": 94, "y": 4}, {"x": 97, "y": 7}, {"x": 99, "y": 10}]},
     "mark": {"type": "line", "stroke": "#1c2f4d", "strokeWidth": 2, "strokeDash": [6, 4], "interpolate": "monotone"}, "encoding": {}},
    {"data": {"values": [{"x": 80, "y": 49}, {"x": 81.3, "y": 47.4}, {"x": 87.7, "y": 52.8}, {"x": 97.2, "y": 62}, {"x": 98.9, "y": 65}, {"x": 99.5, "y": 70}, {"x": 100, "y": 72.5}, {"x": 99, "y": 67.5}, {"x": 96.5, "y": 60}, {"x": 100, "y": 64}]},
     "mark": {"type": "point", "shape": "circle", "filled": true, "fill": "#db3a1f", "stroke": "#b02a14", "strokeWidth": 1, "size": 50, "opacity": 1}},
    {"data": {"values": [{"x": 88.3, "y": 55}, {"x": 87.6, "y": 56.5}, {"x": 99.8, "y": 58.5}]},
     "mark": {"type": "point", "shape": "circle", "filled": true, "fill": "#7a1414", "size": 60, "opacity": 1}},
    {"data": {"values": [{"x": 71.8, "y": 38.8}, {"x": 32.6, "y": 28}, {"x": 36.2, "y": 25.6}]},
     "mark": {"type": "point", "shape": "circle", "filled": true, "fill": "#f0932b", "stroke": "#e8c63a", "strokeWidth": 1.5, "size": 55, "opacity": 1}},
    {"data": {"values": [{"x": 50, "y": 42.5}, {"x": 52.4, "y": 40.5}]},
     "mark": {"type": "point", "shape": "M0,-1L0.235,-0.324L0.951,-0.309L0.380,0.124L0.588,0.809L0,0.4L-0.588,0.809L-0.380,0.124L-0.951,-0.309L-0.235,-0.324Z", "filled": true, "fill": "#f5c518", "stroke": "#e0a800", "strokeWidth": 1, "size": 150, "opacity": 1}},
    {"data": {"values": [{"x": 97.5, "y": 47.8}]},
     "mark": {"type": "point", "shape": "M0,-1L0.235,-0.324L0.951,-0.309L0.380,0.124L0.588,0.809L0,0.4L-0.588,0.809L-0.380,0.124L-0.951,-0.309L-0.235,-0.324Z", "filled": true, "fill": "#5b2a86", "size": 200, "opacity": 1}}
  ]
}
]
}
